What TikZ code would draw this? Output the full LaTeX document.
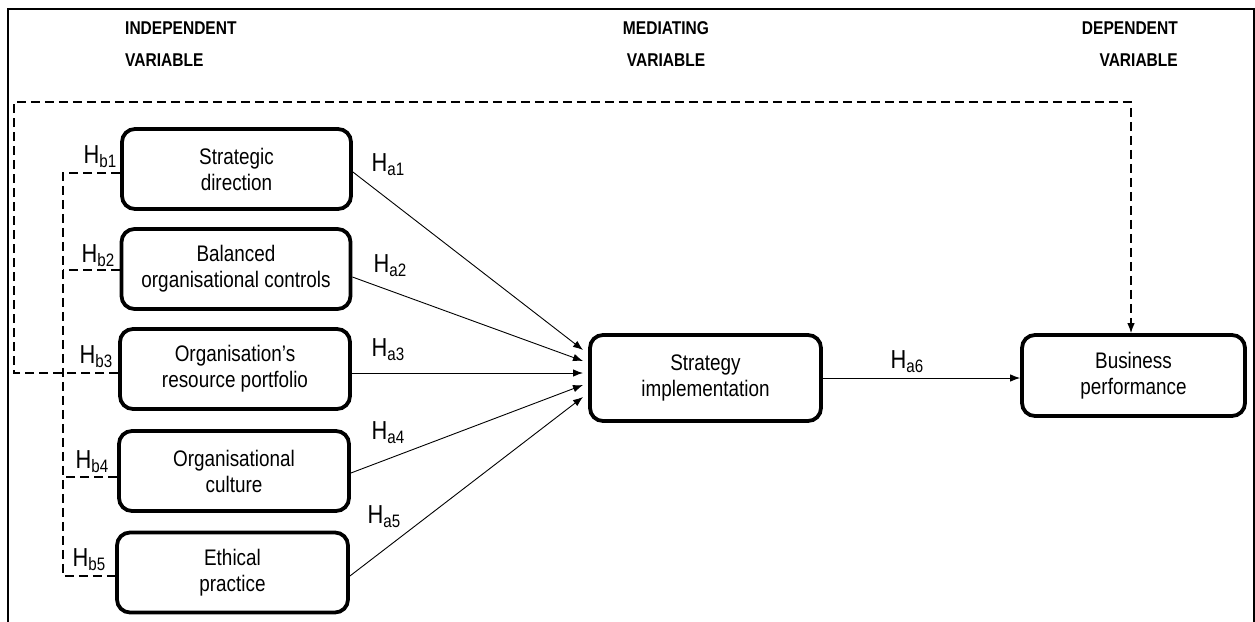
\documentclass[tikz,border=0pt]{standalone}
\usepackage{fontspec}
\setmainfont{Liberation Sans}[FakeStretch=0.84]
\usetikzlibrary{arrows.meta,calc}

% hypothesis label: large H with a lowered, smaller index
\newcommand{\hyplabel}[1]{{\fontsize{26}{26}\selectfont H}{\fontsize{18}{18}\selectfont\raisebox{-4pt}{#1}}}

\begin{document}
\begin{tikzpicture}[x=1pt,y=-1pt,
  varbox/.style={draw,line width=3.8pt,rounded corners=13pt,align=center,
    font=\fontsize{22.5}{26}\selectfont,inner sep=0pt},
  heading/.style={font=\fontsize{18.5}{18.5}\selectfont\bfseries,inner sep=0pt},
  link/.style={line width=0.9pt,-{Latex[length=10pt,width=7.5pt]}},
  dashlink/.style={line width=1.1pt,dash pattern=on 9pt off 5pt},
  hlab/.style={inner sep=0pt}]

\useasboundingbox (0,0) rectangle (1255,621);

% outer frame, open at the bottom
\draw[line width=2.2pt] (8,625) -- (8,9) -- (1254,9) -- (1254,625);

% column headings
\node[heading,anchor=west] (hi1) at (125,28) {INDEPENDENT};
\node[heading,anchor=west] (hi2) at (125,60) {VARIABLE};
\node[heading] (hm1) at (666,28) {MEDIATING};
\node[heading] (hm2) at (666,60) {VARIABLE};
\node[heading,anchor=east] (hd1) at (1178,28) {DEPENDENT};
\node[heading,anchor=east] (hd2) at (1178,60) {VARIABLE};

% independent variables
\node[varbox,minimum width=229pt,minimum height=80pt] (B1) at (236.5,169) {Strategic\\direction};
\node[varbox,minimum width=229pt,minimum height=80pt] (B2) at (236,269) {Balanced\\organisational controls};
\node[varbox,minimum width=230pt,minimum height=80pt] (B3) at (235,369) {Organisation's\\resource portfolio};
\node[varbox,minimum width=230pt,minimum height=80pt] (B4) at (234,471) {Organisational\\culture};
\node[varbox,minimum width=231pt,minimum height=80pt] (B5) at (232.5,572.5) {Ethical\\practice};

% mediating and dependent variables
\node[varbox,minimum width=231pt,minimum height=86pt] (S) at (705.5,378) {Strategy\\implementation};
\node[varbox,minimum width=223pt,minimum height=81pt] (P) at (1133.5,375.5) {Business\\performance};

% arrow ends in front of the mediating box
\coordinate (e1) at (583,350);
\coordinate (e2) at (583,361);
\coordinate (e3) at (583,373);
\coordinate (e4) at (583,385);
\coordinate (e5) at (583,397);

\draw[link] ([yshift=-3pt]B1.east) -- (e1);
\draw[link] ([yshift=-8pt]B2.east) -- (e2);
\draw[link] ([yshift=-4pt]B3.east) -- (e3);
\draw[link] ([yshift=-2pt]B4.east) -- (e4);
\draw[link] ([yshift=-3.5pt]B5.east) -- (e5);
\draw[link] (S.east) -- (S.east -| P.west);

% dashed direct path to business performance
\coordinate (tl) at (14,102);
\coordinate (tr) at (1131,102);
\draw[dashlink,-{Latex[length=10pt,width=7.5pt]}]
  ([yshift=-4pt]B3.west) -- ([yshift=-4pt]B3.west -| tl) -- (tl) -- (tr) -- (tr |- P.north);

% dashed spine joining the independent variables
\coordinate (sp) at (63,0);
\draw[dashlink] ([yshift=-4pt]B1.west) -- ([yshift=-4pt]B1.west -| sp)
  -- ([yshift=-3.5pt]B5.west -| sp) -- ([yshift=-3.5pt]B5.west);
\draw[dashlink] ([yshift=-1pt]B2.west) -- ([yshift=-1pt]B2.west -| sp);
\draw[dashlink] ([yshift=-4pt]B3.west) -- ([yshift=-4pt]B3.west -| sp);
\draw[dashlink] ([yshift=-6pt]B4.west) -- ([yshift=-6pt]B4.west -| sp);

% hypothesis labels
\node[hlab] (hb1) at (100,157) {\hyplabel{b1}};
\node[hlab] (hb2) at (98,256) {\hyplabel{b2}};
\node[hlab] (hb3) at (96,357) {\hyplabel{b3}};
\node[hlab] (hb4) at (92,462) {\hyplabel{b4}};
\node[hlab] (hb5) at (89,560) {\hyplabel{b5}};
\node[hlab] (ha1) at (388,165) {\hyplabel{a1}};
\node[hlab] (ha2) at (390,266) {\hyplabel{a2}};
\node[hlab] (ha3) at (388,350) {\hyplabel{a3}};
\node[hlab] (ha4) at (388,433) {\hyplabel{a4}};
\node[hlab] (ha5) at (384,517) {\hyplabel{a5}};
\node[hlab] (ha6) at (907,362) {\hyplabel{a6}};
\end{tikzpicture}
\end{document}
